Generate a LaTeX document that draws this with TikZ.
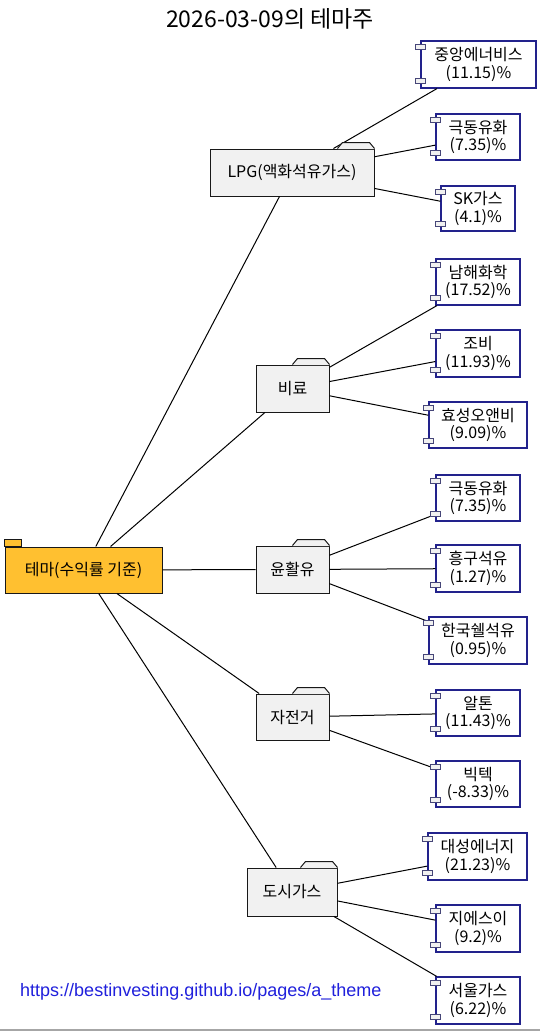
\documentclass[tikz,border=0pt]{standalone}
\usepackage{fontspec}
\setmainfont{Noto Sans CJK KR}
\newfontfamily\urlfont{Liberation Sans}
\definecolor{rootfill}{RGB}{255,192,48}
\definecolor{folderfill}{RGB}{241,241,241}
\definecolor{folderline}{RGB}{24,24,24}
\definecolor{compline}{RGB}{34,34,140}
\definecolor{portline}{RGB}{70,70,120}
\definecolor{urlblue}{RGB}{32,32,220}
\tikzset{
  lbl/.style={font=\fontsize{16}{17.5}\selectfont, align=center, inner sep=0pt},
  rootbox/.style={lbl, draw=folderline, fill=rootfill, line width=1pt},
  folderbox/.style={lbl, draw=folderline, fill=folderfill, line width=1pt, minimum width=73pt, minimum height=47pt},
  compbox/.style={lbl, draw=compline, fill=white, line width=1.2pt, minimum width=84pt, minimum height=46pt},
  edge/.style={draw=black, line width=1pt},
}
\newcommand\ftab[1]{%
  \fill[folderfill] ([xshift=-37pt,yshift=-0.6pt]#1.north east) -- ++(5,-6.6) -- ([xshift=-5pt,yshift=6pt]#1.north east) -- ([yshift=-0.6pt]#1.north east) -- cycle;
  \draw[folderline, line width=1pt] ([xshift=-37pt]#1.north east) -- ++(5,-6) -- ([xshift=-5pt,yshift=6pt]#1.north east) -- (#1.north east);
}
\newcommand\cports[1]{%
  \draw[portline, fill=folderfill, line width=0.9pt] ([xshift=-5pt,yshift=-4pt]#1.north west) rectangle ++(10,5);
  \draw[portline, fill=folderfill, line width=0.9pt] ([xshift=-5pt,yshift=5pt]#1.south west) rectangle ++(10,-5);
}
\begin{document}
\begin{tikzpicture}[x=1pt,y=-1pt]
\useasboundingbox (0,0) rectangle (540,1031);
\fill[white] (0,0) rectangle (540,1031);
\draw[gray!70, line width=1.5pt] (0,1030) -- (540,1030);

\node[font=\fontsize{23}{26}\selectfont, inner sep=0pt] (title) at (270,19) {2026-03-09의 테마주};
\node[font=\urlfont\fontsize{18}{20}\selectfont, text=urlblue, anchor=west, inner sep=0pt] (url) at (20,992) {https://bestinvesting.github.io/pages/a\_theme};

% root
\node[rootbox, minimum width=157pt, minimum height=46pt] (root) at (83.5,570) {테마(수익률 기준)};
\draw[folderline, fill=rootfill, line width=1pt] (root.north west) rectangle ++(17,-7);

% folders
\node[folderbox, minimum width=164pt] (lpg) at (292,172.5) {LPG(액화석유가스)};
\node[folderbox] (bir) at (292.5,388.5) {비료};
\node[folderbox] (yun) at (292.5,569.5) {윤활유};
\node[folderbox, minimum height=46pt] (jaj) at (292.5,717) {자전거};
\node[folderbox, minimum width=90pt, minimum height=48pt] (dos) at (292,892) {도시가스};

% components
\node[compbox, minimum width=115pt, minimum height=47pt] (c1) at (478.5,64.5) {중앙에너비스\\(11.15)\%};
\node[compbox] (c2) at (478,137) {극동유화\\(7.35)\%};
\node[compbox, minimum width=74pt, minimum height=45pt] (c3) at (478,208.5) {SK가스\\(4.1)\%};
\node[compbox] (c4) at (478,282) {남해화학\\(17.52)\%};
\node[compbox, minimum height=47pt] (c5) at (478,353.5) {조비\\(11.93)\%};
\node[compbox, minimum width=98pt] (c6) at (478,425) {효성오앤비\\(9.09)\%};
\node[compbox] (c7) at (478,498) {극동유화\\(7.35)\%};
\node[compbox, minimum height=47pt] (c8) at (478,568.5) {흥구석유\\(1.27)\%};
\node[compbox, minimum width=98pt, minimum height=47pt] (c9) at (478,640.5) {한국쉘석유\\(0.95)\%};
\node[compbox] (c10) at (478,713) {알톤\\(11.43)\%};
\node[compbox] (c11) at (478,784) {빅텍\\(-8.33)\%};
\node[compbox, minimum width=99pt, minimum height=47pt] (c12) at (477.5,856.5) {대성에너지\\(21.23)\%};
\node[compbox, minimum height=47pt] (c13) at (478,928.5) {지에스이\\(9.2)\%};
\node[compbox, minimum height=47pt] (c14) at (478,1000.5) {서울가스\\(6.22)\%};

% edges
\draw[edge] (root) -- (lpg);
\draw[edge] (root) -- (bir);
\draw[edge] (root) -- (yun);
\draw[edge] (root) -- (jaj);
\draw[edge] (root) -- (dos);
\draw[edge] (lpg) -- (c1);
\draw[edge] (lpg) -- (c2);
\draw[edge] (lpg) -- (c3);
\draw[edge] (bir) -- (c4);
\draw[edge] (bir) -- (c5);
\draw[edge] (bir) -- (c6);
\draw[edge] (yun) -- (c7);
\draw[edge] (yun) -- (c8);
\draw[edge] (yun) -- (c9);
\draw[edge] (jaj) -- (c10);
\draw[edge] (jaj) -- (c11);
\draw[edge] (dos) -- (c12);
\draw[edge] (dos) -- (c13);
\draw[edge] (dos) -- (c14);

% tabs
\ftab{lpg}
\ftab{bir}
\ftab{yun}
\ftab{jaj}
\ftab{dos}

% ports
\foreach \c in {c1,c2,c3,c4,c5,c6,c7,c8,c9,c10,c11,c12,c13,c14} {\cports{\c}}
\end{tikzpicture}
\end{document}
